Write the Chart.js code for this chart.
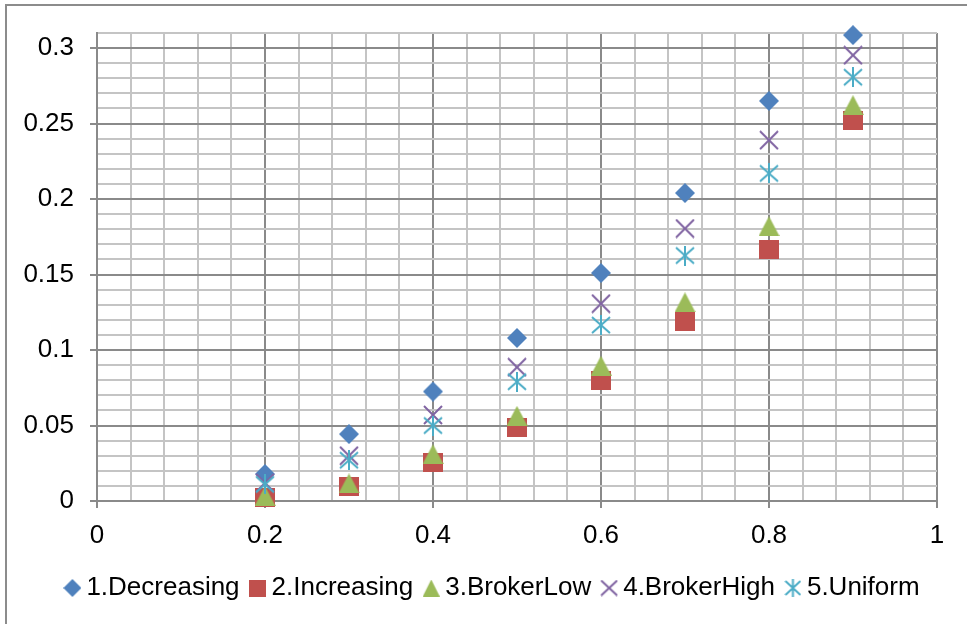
<!DOCTYPE html>
<html><head><meta charset="utf-8">
<script src="https://cdn.jsdelivr.net/npm/chart.js@4.4.1/dist/chart.umd.min.js"></script>
<style>
html,body{margin:0;padding:0;background:#fff;}
#wrap{position:relative;width:967px;height:624px;overflow:hidden;}
#frame{position:absolute;left:5px;top:4px;width:2000px;height:2000px;border-left:2px solid #8c8c8c;border-top:2px solid #8c8c8c;box-sizing:border-box;}
canvas{position:absolute;left:0;top:0;}
</style></head><body>
<div id="wrap"><div id="frame"></div><canvas id="c" width="967" height="624"></canvas></div>
<script>
// ---- data ----
const seriesNames = ['1.Decreasing', '2.Increasing', '3.BrokerLow', '4.BrokerHigh', '5.Uniform'];
const xValues     = [0.2, 0.3, 0.4, 0.5, 0.6, 0.7, 0.8, 0.9];
const decreasing  = [0.0179, 0.0443, 0.0725, 0.108, 0.151, 0.204, 0.265, 0.3086];
const increasing  = [0.0022, 0.0094, 0.0254, 0.049, 0.0797, 0.119, 0.1666, 0.252];
const brokerLow   = [0.0033, 0.0116, 0.031, 0.0564, 0.0896, 0.1316, 0.182, 0.2622];
const brokerHigh  = [0.012, 0.030, 0.057, 0.0886, 0.1307, 0.1805, 0.239, 0.2953];
const uniform     = [0.011, 0.027, 0.050, 0.079, 0.1165, 0.1626, 0.217, 0.2807];
const xTickStep = 0.04, xLabelStep = 0.2;
const yTickStep = 0.01, yLabelStep = 0.05;

const seriesValues = [decreasing, increasing, brokerLow, brokerHigh, uniform];
const colors = ['#4F81BD', '#C0504D', '#9BBB59', '#8064A2', '#4BACC6'];

function mk(w, h, draw) { const c = document.createElement('canvas'); c.width = w; c.height = h; const g = c.getContext('2d'); draw(g, w, h); return c; }
function diamond(w, h, col) { return mk(w, h, (g) => { g.fillStyle = col; g.beginPath(); g.moveTo(w/2, 0); g.lineTo(w, h/2); g.lineTo(w/2, h); g.lineTo(0, h/2); g.closePath(); g.fill(); }); }
function square(w, h, col) { return mk(w, h, (g) => { g.fillStyle = col; g.fillRect(0, 0, w, h); }); }
function triangle(w, h, col) { return mk(w, h, (g) => { g.fillStyle = col; g.beginPath(); g.moveTo(w/2, 0); g.lineTo(w, h); g.lineTo(0, h); g.closePath(); g.fill(); }); }
function xmark(w, h, col) { return mk(w, h, (g) => { g.strokeStyle = col; g.lineWidth = 2; g.beginPath(); g.moveTo(1, 1); g.lineTo(w-1, h-1); g.moveTo(w-1, 1); g.lineTo(1, h-1); g.stroke(); }); }
function asterisk(w, h, col) { return mk(w, h, (g) => { g.strokeStyle = col; g.lineWidth = 2; g.beginPath(); g.moveTo(1, 2); g.lineTo(w-1, h-2); g.moveTo(w-1, 2); g.lineTo(1, h-2); g.moveTo(w/2, 0); g.lineTo(w/2, h); g.stroke(); }); }

const plotMarkers = [diamond(20, 20, colors[0]), square(20, 19, colors[1]), triangle(21, 20, colors[2]), xmark(20, 20, colors[3]), asterisk(20, 20, colors[4])];
const legendMarkers = [diamond(18, 18, colors[0]), square(17, 17, colors[1]), triangle(17, 17, colors[2]), xmark(18, 17, colors[3]), asterisk(17, 18, colors[4])];

const isMult = (v, s) => Math.abs(v / s - Math.round(v / s)) < 1e-6;
const fmt = (v) => String(parseFloat(v.toFixed(2)));
const MAJ = '#8a8a8a', MIN = '#c4c4c4';
const FONT = {family: "'Liberation Sans', Arial, sans-serif", size: 26};

const shiftLegend = {
  id: 'shiftLegend',
  afterLayout(chart) { const dx = 27; chart.legend.left += dx; chart.legend.right += dx; }
};

new Chart(document.getElementById('c'), {
  type: 'scatter',
  data: {
    datasets: seriesNames.map((name, i) => ({
      label: name,
      data: xValues.map((x, j) => ({x: x, y: seriesValues[i][j]})),
      pointStyle: plotMarkers[i],
      pointRadius: 10,
      backgroundColor: colors[i],
      borderColor: colors[i],
      order: 5 - i,
      clip: false
    }))
  },
  options: {
    animation: false,
    responsive: false,
    events: [],
    layout: {padding: {left: 0, right: 30, top: 33, bottom: 13}},
    scales: {
      x: {
        type: 'linear', min: 0, max: 1,
        ticks: {stepSize: xTickStep, autoSkip: false, maxRotation: 0, minRotation: 0, padding: 12, color: '#000', font: FONT,
          callback: (v) => isMult(v, xLabelStep) ? fmt(v) : ''},
        grid: {lineWidth: 2, tickLength: 7, tickWidth: 2,
          color: (c) => (c.tick && isMult(c.tick.value, xLabelStep)) ? MAJ : MIN,
          tickColor: (c) => (c.tick && isMult(c.tick.value, xLabelStep)) ? MAJ : 'rgba(0,0,0,0)'},
        border: {color: MAJ, width: 2},
        afterFit: (s) => { s.height = 57; }
      },
      y: {
        type: 'linear', min: 0, max: 0.31,
        ticks: {stepSize: yTickStep, autoSkip: false, padding: 16, color: '#000', font: FONT,
          callback: (v) => isMult(v, yLabelStep) ? fmt(v) : ''},
        grid: {lineWidth: 2, tickLength: 7, tickWidth: 2,
          color: (c) => (c.tick && isMult(c.tick.value, yLabelStep)) ? MAJ : MIN,
          tickColor: (c) => (c.tick && isMult(c.tick.value, yLabelStep)) ? MAJ : 'rgba(0,0,0,0)'},
        border: {color: MAJ, width: 2},
        afterFit: (s) => { s.width = 97; }
      }
    },
    plugins: {
      tooltip: {enabled: false},
      legend: {
        position: 'bottom',
        labels: {
          usePointStyle: true, boxWidth: 2, boxHeight: 2, padding: 17, color: '#000', font: FONT,
          sort: (a, b) => a.datasetIndex - b.datasetIndex,
          generateLabels: (chart) => {
            const items = Chart.defaults.plugins.legend.labels.generateLabels(chart);
            items.forEach((it) => { it.pointStyle = legendMarkers[it.datasetIndex]; it.fontColor = '#000'; });
            return items;
          }
        }
      }
    }
  },
  plugins: [shiftLegend]
});
</script>
</body></html>
